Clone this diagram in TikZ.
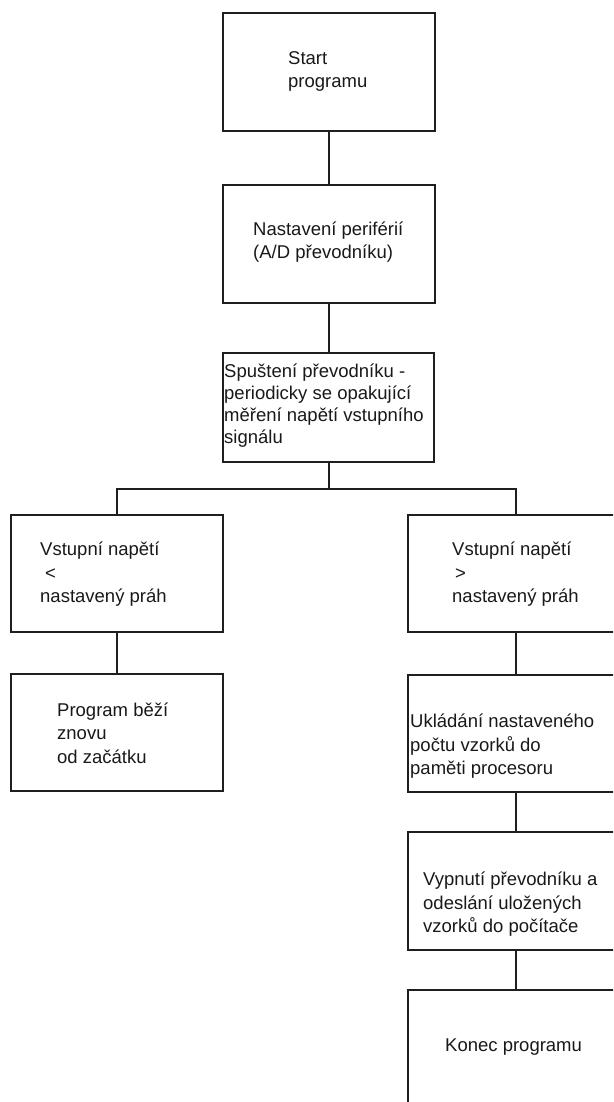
\documentclass[tikz,border=0pt]{standalone}
\usepackage{fontspec}
\setmainfont{Liberation Sans}
\begin{document}
\begin{tikzpicture}[x=1pt,y=-1pt,
  boxst/.style={draw=black!88,line width=1.5pt,rectangle,inner sep=0pt},
  txt/.style={anchor=west,align=left,inner sep=0pt,text=black!90,font=\fontsize{18.5}{23.5}\selectfont},
  txtc/.style={txt,font=\fontsize{18.5}{22}\selectfont},
  conn/.style={draw=black!88,line width=1.5pt}]
\useasboundingbox (0,0) rectangle (613,1102);
\fill[white] (0,0) rectangle (613,1102);
\clip (0,0) rectangle (613,1102);
% boxes
\node[boxst,minimum width=212pt,minimum height=118pt] (A) at (329,72) {};
\node[boxst,minimum width=212pt,minimum height=118pt] (B) at (329,244) {};
\node[boxst,minimum width=211pt,minimum height=109pt] (C) at (328.5,407.5) {};
\node[boxst,minimum width=212pt,minimum height=117pt] (L1) at (117,573.5) {};
\node[boxst,minimum width=212pt,minimum height=117pt] (L2) at (117,732.5) {};
\node[boxst,minimum width=216pt,minimum height=117pt] (R1) at (516,573.5) {};
\node[boxst,minimum width=216pt,minimum height=117pt] (R2) at (516,733.5) {};
\node[boxst,minimum width=216pt,minimum height=118pt] (R3) at (516,891) {};
\node[boxst,minimum width=216pt,minimum height=117pt] (R4) at (516,1048.5) {};
% texts
\node[txt] (tA) at (288,71.5) {Start\\programu};
\node[txt] (tB) at (253,242) {Nastavení periférií\\(A/D převodníku)};
\node[txtc] (tC) at (224,405.5) {Spuštení převodníku -\\periodicky se opakující\\měření napětí vstupního\\signálu};
\node[txt] (tL1) at (40,574.5) {Vstupní napětí\\\hspace{5pt}<\\nastavený práh};
\node[txt] (tR1) at (452,574.5) {Vstupní napětí\\\hspace{3pt}>\\nastavený práh};
\node[txt] (tL2) at (57,733) {Program běží\\znovu\\od začátku};
\node[txt] (tR2) at (410,746.5) {Ukládání nastaveného\\počtu vzorků do\\paměti procesoru};
\node[txt] (tR3) at (423,904.5) {Vypnutí převodníku a\\odeslání uložených\\vzorků do počítače};
\node[txt] (tR4) at (445,1047.5) {Konec programu};
% connectors
\coordinate (J) at (329,489);
\draw[conn] (A.south) -- (B.north);
\draw[conn] (B.south) -- (B.south |- C.north);
\draw[conn] (C.south -| J) -- (J);
\draw[conn] (J) -| (L1.north);
\draw[conn] (J) -| (R1.north);
\draw[conn] (L1.south) -- (L2.north);
\draw[conn] (R1.south) -- (R2.north);
\draw[conn] (R2.south) -- (R3.north);
\draw[conn] (R3.south) -- (R4.north);
\end{tikzpicture}
\end{document}
